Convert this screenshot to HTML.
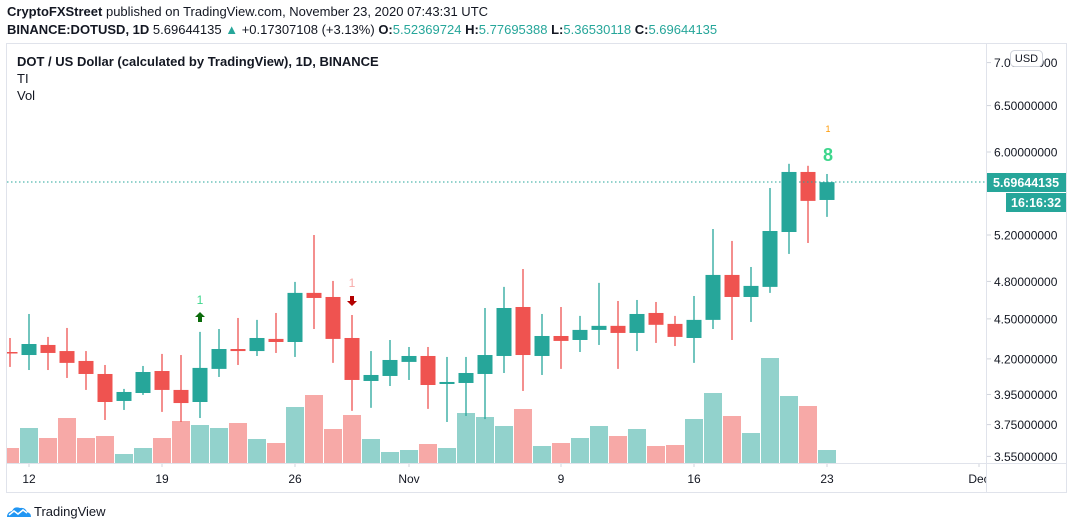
<!DOCTYPE html>
<html><head><meta charset="utf-8">
<style>
body{margin:0;width:1073px;height:529px;background:#fff;font-family:"Liberation Sans",sans-serif;overflow:hidden;position:relative;color:#131722}
.hdr{position:absolute;left:7px;font-size:13px;white-space:nowrap}
b{font-weight:bold}
.g{color:#26a69a}
</style></head><body>
<div class="hdr" style="top:4px"><b>CryptoFXStreet</b> published on TradingView.com, November 23, 2020 07:43:31 UTC</div>
<div class="hdr" style="top:22px"><b>BINANCE:DOTUSD, 1D</b> 5.69644135 <span class="g">▲</span> +0.17307108 (+3.13%) <b>O:</b><span class="g">5.52369724</span> <b>H:</b><span class="g">5.77695388</span> <b>L:</b><span class="g">5.36530118</span> <b>C:</b><span class="g">5.69644135</span></div>
<svg id="chart" width="1073" height="529" style="position:absolute;left:0;top:0">
<defs><clipPath id="plot"><rect x="7" y="44" width="979" height="419"/></clipPath><clipPath id="xax"><rect x="7" y="464" width="979" height="28"/></clipPath></defs>
<rect x="6.5" y="43.5" width="1060" height="449" fill="none" stroke="#e0e3eb"/>
<line x1="986.5" y1="43" x2="986.5" y2="492" stroke="#e0e3eb"/>
<line x1="7" y1="463.5" x2="1066" y2="463.5" stroke="#e0e3eb"/>
<text x="17" y="66" font-size="13" font-weight="bold" fill="#131722">DOT / US Dollar (calculated by TradingView), 1D, BINANCE</text>
<text x="17" y="83" font-size="13" fill="#131722">TI</text>
<text x="17" y="100" font-size="13" fill="#131722">Vol</text>
<g clip-path="url(#plot)"><g id="vols"></g><g id="candles"></g></g><g id="yaxis"></g><g id="xaxis" clip-path="url(#xax)"></g>
<line x1="7" y1="182" x2="986" y2="182" stroke="#26a69a" stroke-dasharray="1.5,2.5"/>
<text x="200" y="304" font-size="12" fill="#3dd68c" text-anchor="middle">1</text>
<path d="M200 312 l-5 5 h3 v5 h4 v-5 h3z" fill="#0b6b0b"/>
<text x="352" y="287" font-size="12" fill="#f7a9a7" text-anchor="middle">1</text>
<path d="M352 306 l-5 -5 h3 v-5 h4 v5 h3z" fill="#b30000"/>
<text x="828" y="132" font-size="9" fill="#ff9800" text-anchor="middle">1</text>
<text x="828" y="161" font-size="18" font-weight="bold" fill="#3dd68c" text-anchor="middle">8</text>
<rect x="987" y="173" width="79" height="19" fill="#26a69a"/>
<text x="993" y="187" font-size="12.5" font-weight="bold" fill="#fff">5.69644135</text>
<rect x="1006" y="193" width="60" height="19" fill="#26a69a"/>
<text x="1011" y="207" font-size="12.5" font-weight="bold" fill="#fff">16:16:32</text>
<rect x="1010.5" y="50.5" width="32" height="16" rx="4" fill="#fff" stroke="#d1d4dc"/>
<text x="1026.5" y="62" font-size="11" fill="#131722" text-anchor="middle">USD</text>
<g>
<path d="M7 517 q0 -5 5 -6 q2 -5 8 -3 q5 -1 7 4 q4 1 4 5 z" fill="#2196f3"/>
<path d="M9 515 l5 -4 l4 3 l5 -4 l4 3" fill="none" stroke="#fff" stroke-width="1.5"/>
<text x="34" y="516" font-size="13" fill="#131722">TradingView</text>
</g>
</svg>
<script>
const dayIndex=[-1,0,1,2,3,4,5,6,7,8,9,10,11,12,13,14,15,16,17,18,19,20,21,22,23,24,25,26,27,28,29,30,31,32,33,34,35,36,37,38,39,40,41,42];
const opens=[4.25,4.228,4.302,4.257,4.185,4.092,3.906,3.96,4.113,3.981,3.899,4.128,4.272,4.257,4.347,4.324,4.706,4.673,4.354,4.043,4.078,4.178,4.221,4.022,4.029,4.092,4.221,4.593,4.221,4.369,4.339,4.415,4.446,4.392,4.546,4.461,4.354,4.492,4.854,4.673,4.755,5.227,5.797,5.5237];
const highs=[4.354,4.538,4.362,4.43,4.257,4.156,3.988,4.149,4.236,4.228,4.4,4.422,4.507,4.492,4.546,4.796,5.2,4.804,4.53,4.257,4.339,4.287,4.287,4.214,4.214,4.585,4.755,4.904,4.538,4.593,4.523,4.788,4.641,4.649,4.633,4.523,4.681,5.254,5.147,4.921,5.639,5.879,5.859,5.777];
const lows=[4.142,4.12,4.12,4.064,3.981,3.78,3.846,3.947,3.833,3.767,3.793,4.071,4.156,4.221,4.243,4.214,4.422,4.171,3.84,3.86,4.008,4.05,3.853,3.767,3.806,3.786,4.099,3.974,4.085,4.128,4.25,4.302,4.128,4.257,4.317,4.294,4.171,4.422,4.339,4.476,4.706,5.033,5.129,5.365];
const closes=[4.245,4.309,4.243,4.171,4.092,3.899,3.967,4.106,3.981,3.892,4.135,4.272,4.257,4.354,4.324,4.706,4.665,4.347,4.05,4.085,4.192,4.221,4.015,4.036,4.099,4.228,4.585,4.228,4.369,4.332,4.415,4.446,4.392,4.538,4.454,4.362,4.492,4.854,4.673,4.763,5.236,5.797,5.515,5.696];
const volumes=[15,35,25,45,25,27,9,15,25,42,38,35,40,24,20,56,68,34,48,24,11,13,19,15,50,46,37,54,17,20,25,37,27,34,17,18,44,70,47,30,105,67,57,13];
const priceTicks=[7.0,6.5,6.0,5.2,4.8,4.5,4.2,3.95,3.75,3.55];
const dateTickIdx=[0,7,14,20,28,35,42,50];
const dateTickLabels=["12","19","26","Nov","9","16","23","Dec"];
const NS="http://www.w3.org/2000/svg";
function xScale(i){return 29+19*i;}
function yScale(p){return 152-580*Math.log(p/6);}
function vScale(v){return 463-v;}
function mk(tag,attrs,parent){const e=document.createElementNS(NS,tag);for(const k in attrs)e.setAttribute(k,attrs[k]);parent.appendChild(e);return e;}
const vg=document.getElementById('vols'),cg=document.getElementById('candles'),yg=document.getElementById('yaxis'),xg=document.getElementById('xaxis');
for(let i=0;i<dayIndex.length;i++){
  const x=xScale(dayIndex[i]);const up=closes[i]>=opens[i];
  const v=mk('rect',{x:x-9,y:vScale(volumes[i]),width:18,height:volumes[i],fill:up?'#92d2cc':'#f7a9a7'},vg);
  
  
  const col=up?'#26a69a':'#ef5350';
  const g=mk('g',{},cg);
  
  
  mk('line',{x1:x,x2:x,y1:yScale(highs[i]),y2:yScale(lows[i]),stroke:col,'stroke-width':1.3},g);
  const t=Math.min(yScale(opens[i]),yScale(closes[i])),b=Math.max(yScale(opens[i]),yScale(closes[i]));
  mk('rect',{x:x-7.5,y:t,width:15,height:Math.max(b-t,1.5),fill:col},g);
}
for(let i=0;i<priceTicks.length;i++){
  const y=yScale(priceTicks[i]);
  const t=mk('text',{x:994,y:y+4.5,'font-size':12,fill:'#131722'},yg);
  t.textContent=priceTicks[i].toFixed(8);
  
  
  mk('line',{x1:987,x2:991,y1:y,y2:y,stroke:'#d1d4dc'},yg);
}
for(let i=0;i<dateTickIdx.length;i++){
  const x=xScale(dateTickIdx[i]);
  mk('line',{x1:x,x2:x,y1:463,y2:467,stroke:'#d1d4dc'},xg);
  const t=mk('text',{x:x,y:483,'font-size':12,fill:'#131722','text-anchor':'middle'},xg);
  t.textContent=dateTickLabels[i];
  
  
}
</script>
</body></html>
